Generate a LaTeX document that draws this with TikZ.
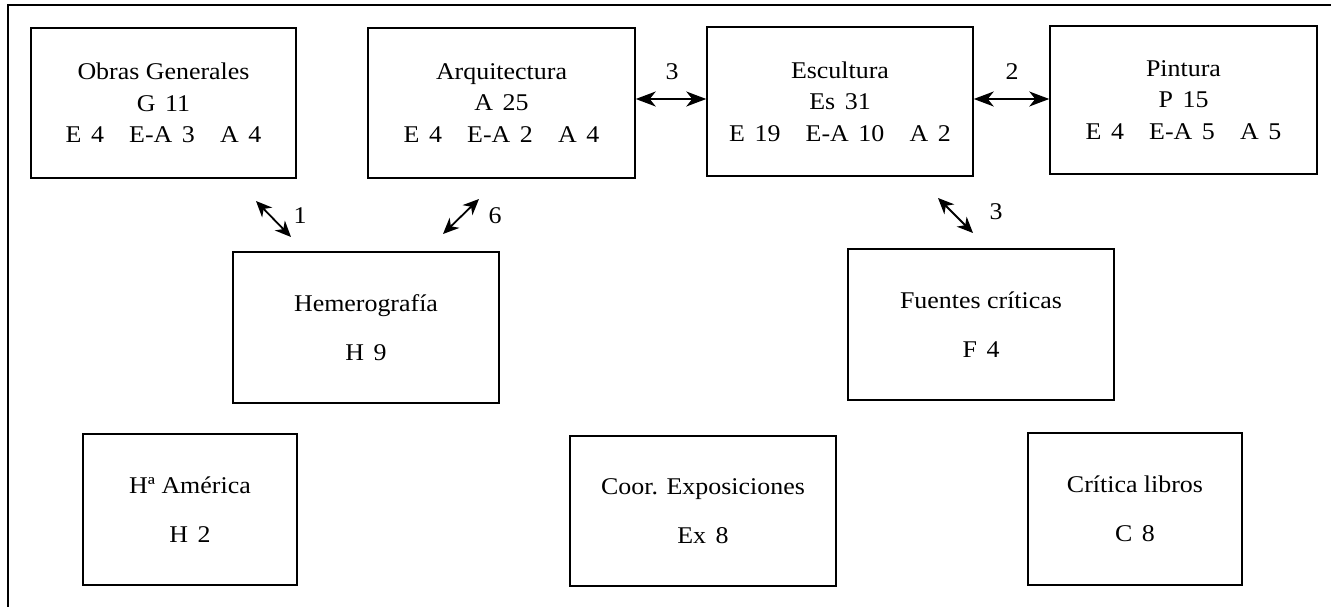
\documentclass[tikz,border=0pt]{standalone}
\usepackage{fontspec}
\setmainfont{Liberation Serif}[FakeStretch=1.08]
\usetikzlibrary{arrows.meta,calc}
\newcommand\gs{\hspace{0.4em}}
\newcommand\gl{\hspace{1.05em}}
\begin{document}
\begin{tikzpicture}[x=1pt,y=-1pt,
  box/.style={draw,line width=1.5pt,rectangle,inner sep=0pt,align=center,
    font=\fontsize{24}{31.5}\selectfont},
  lab/.style={inner sep=0pt,font=\fontsize{24}{28}\selectfont},
  arr/.style={line width=1.8pt,
    {Stealth[length=20pt 0,width=15pt 0,inset=6pt 0]}-{Stealth[length=20pt 0,width=15pt 0,inset=6pt 0]}},
  darr/.style={line width=1.8pt,
    {Stealth[length=16pt 0,width=14pt 0,inset=5pt 0]}-{Stealth[length=16pt 0,width=14pt 0,inset=5pt 0]}}]
\useasboundingbox (0,0) rectangle (1331,607);
\draw[line width=1.5pt] (8,607) -- (8,5) -- (1331,5);

\node[box,minimum width=265pt,minimum height=150pt] (og) at (163.5,103)
  {Obras Generales\\G\gs 11\\E\gs 4\gl E-A\gs 3\gl A\gs 4};
\node[box,minimum width=267pt,minimum height=150pt] (arq) at (501.5,103)
  {Arquitectura\\A\gs 25\\E\gs 4\gl E-A\gs 2\gl A\gs 4};
\node[box,minimum width=266pt,minimum height=149pt] (esc) at (840,101.5)
  {Escultura\\Es\gs 31\\E\gs 19\gl E-A\gs 10\gl A\gs 2};
\node[box,minimum width=267pt,minimum height=148pt] (pin) at (1183.5,100)
  {Pintura\\P\gs 15\\E\gs 4\gl E-A\gs 5\gl A\gs 5};
\node[box,minimum width=266pt,minimum height=151pt] (hem) at (366,327.5)
  {Hemerografía\\[17pt]H\gs 9};
\node[box,minimum width=266pt,minimum height=151pt] (fue) at (981,324.5)
  {Fuentes críticas\\[17pt]F\gs 4};
\node[box,minimum width=214pt,minimum height=151pt] (ham) at (190,509.5)
  {Hª América\\[17pt]H\gs 2};
\node[box,minimum width=266pt,minimum height=150pt] (coor) at (703,511)
  {Coor. Exposiciones\\[17pt]Ex\gs 8};
\node[box,minimum width=214pt,minimum height=152pt] (cri) at (1135,509)
  {Crítica libros\\[17pt]C\gs 8};

\draw[arr] ($(arq.east)+(0,-4)$) -- ($(esc.west)+(0,-2.5)$);
\draw[arr] ($(esc.east)+(0,-2.5)$) -- ($(pin.west)+(0,-1)$);

\coordinate (a1s) at (256,201);
\coordinate (a1e) at (291,237);
\coordinate (a6s) at (443,234);
\coordinate (a6e) at (479,199);
\coordinate (a3s) at (938,198);
\coordinate (a3e) at (973,233);
\draw[darr] (a1s) -- (a1e);
\draw[darr] (a6s) -- (a6e);
\draw[darr] (a3s) -- (a3e);

\node[lab] (l3a) at (672,72) {3};
\node[lab] (l2) at (1012,72) {2};
\node[lab] (l1) at (300,216) {1};
\node[lab] (l6) at (495,216) {6};
\node[lab] (l3b) at (996,212) {3};
\end{tikzpicture}
\end{document}
